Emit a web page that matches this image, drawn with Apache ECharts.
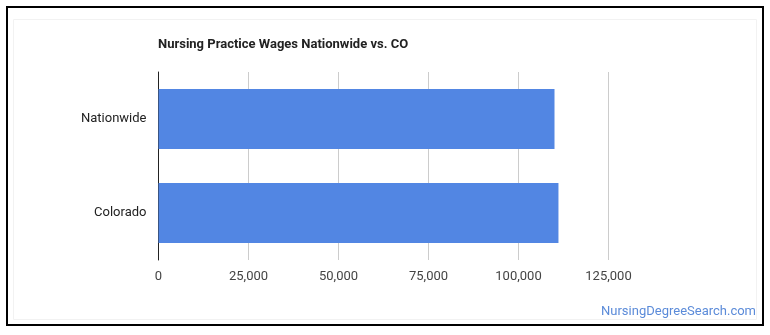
<!DOCTYPE html>
<html>
<head>
<meta charset="utf-8">
<script src="https://cdn.jsdelivr.net/npm/echarts@6/dist/echarts.min.js"></script>
<style>
html,body{margin:0;padding:0;background:#fff;}
#c{width:770px;height:335px;}
</style>
</head>
<body>
<div id="c"></div>
<script>
var categories = ['Nationwide', 'Colorado'];
var wages = [110000, 111100];
var xTicks = [0, 25000, 50000, 75000, 100000, 125000];
var titleText = 'Nursing Practice Wages Nationwide vs. CO';
var footerText = 'NursingDegreeSearch.com';

var chart = echarts.init(document.getElementById('c'), null, {renderer: 'canvas'});
chart.setOption({
  animation: false,
  backgroundColor: '#fff',
  textStyle: {fontFamily: 'Roboto'},
  graphic: [
    {type: 'rect', shape: {x: 7, y: 7, width: 756, height: 318}, style: {fill: 'none', stroke: '#000', lineWidth: 2}, z: 0},
    {type: 'rect', shape: {x: 13.5, y: 19.5, width: 743, height: 300}, style: {fill: 'none', stroke: '#f2f2f2', lineWidth: 1}, z: 0},
    {type: 'text', left: 158, top: 38, style: {text: titleText, font: 'bold 13px Roboto', fill: '#222'}},
    {type: 'text', right: 14, top: 305, style: {text: footerText, font: '13px Roboto', fill: '#5b8bd9'}}
  ],
  grid: {left: 158.5, top: 72, width: 450, height: 188, containLabel: false},
  xAxis: {
    type: 'value',
    min: xTicks[0],
    max: xTicks[xTicks.length - 1],
    interval: 25000,
    axisLine: {show: false},
    axisTick: {show: false},
    splitLine: {show: true, lineStyle: {color: '#cccccc', width: 1}},
    axisLabel: {
      color: '#444',
      fontSize: 13,
      fontFamily: 'Roboto',
      margin: 10,
      formatter: function (v) { return v.toLocaleString('en-US'); }
    }
  },
  yAxis: {
    type: 'category',
    data: categories,
    inverse: true,
    axisLine: {show: true, lineStyle: {color: '#222', width: 1}},
    axisTick: {show: false},
    axisLabel: {color: '#222', fontSize: 13, fontFamily: 'Roboto', margin: 12}
  },
  series: [{
    type: 'bar',
    data: wages,
    barWidth: 60,
    itemStyle: {color: '#5286e3'}
  }]
});
</script>
</body>
</html>
